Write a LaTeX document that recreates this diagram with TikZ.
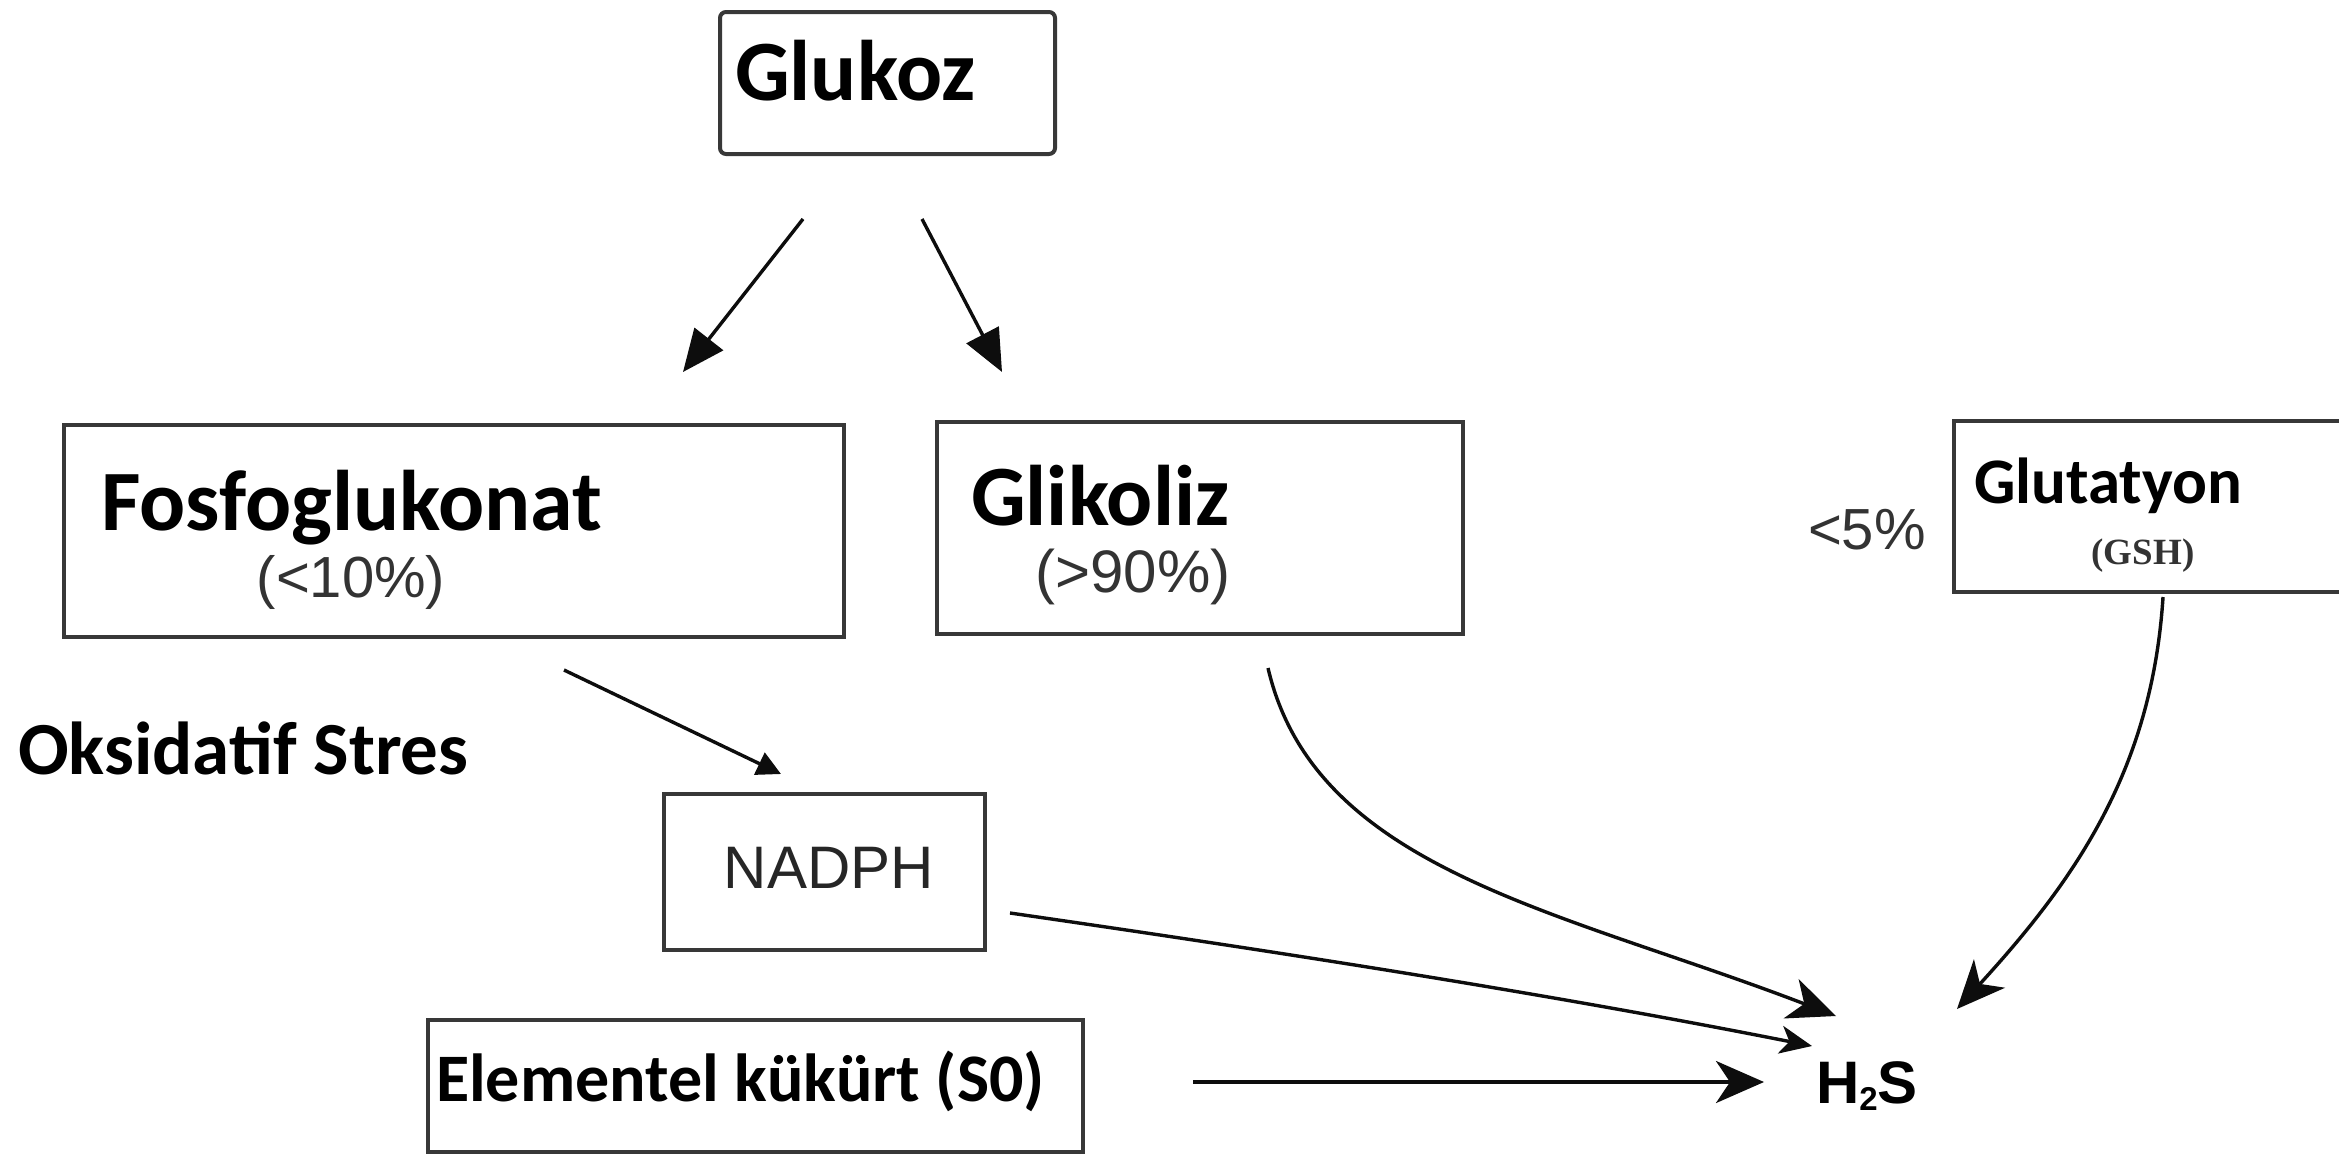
\documentclass[tikz,border=0pt]{standalone}
\usepackage{fontspec}
\setmainfont{Carlito}
\newfontfamily\arialf{Liberation Sans}
\newfontfamily\timesf{Liberation Serif}
\usetikzlibrary{arrows.meta}
\begin{document}
\begin{tikzpicture}[x=1pt,y=-1pt,
  box/.style={draw=black!78, line width=4pt, rectangle, inner sep=0pt, outer sep=0pt, anchor=north west},
  lbl/.style={inner sep=0pt, outer sep=0pt, anchor=base west, text=black},
  sub/.style={inner sep=0pt, outer sep=0pt, anchor=base, text=black!80},
  conn/.style={line width=3.4pt, draw=black!95},
  tri/.style={-{Triangle[length=42pt,width=36pt]}},
  smalltri/.style={-{Triangle[length=24pt,width=24pt]}},
  bigstl/.style={-{Stealth[length=48pt,width=42pt,inset=14pt]}},
  midstl/.style={-{Stealth[length=32pt,width=28pt,inset=9pt]}},
]
\useasboundingbox (0,0) rectangle (2339,1159);
\fill[white] (0,0) rectangle (2339,1159);
\clip (0,0) rectangle (2339,1159);

% boxes
\node[box, minimum width=335pt, minimum height=142pt, rounded corners=6pt] (glukoz) at (720,12) {};
\node[box, minimum width=780pt, minimum height=212pt] (fosfo) at (64,425) {};
\node[box, minimum width=526pt, minimum height=212pt] (glikoliz) at (937,422) {};
\node[box, minimum width=400pt, minimum height=171pt] (gsh) at (1954,421) {};
\node[box, minimum width=321pt, minimum height=156pt] (nadph) at (664,794) {};
\node[box, minimum width=655pt, minimum height=132pt] (elem) at (428,1020) {};

% texts
\node[lbl, font=\fontsize{86}{90}\selectfont\bfseries] (tglukoz) at (735,100) {Glukoz};
\node[lbl, font=\fontsize{86}{90}\selectfont\bfseries] (tfosfo) at (101,530) {Fosfoglukonat};
\node[sub, font=\arialf\fontsize{58}{60}\selectfont] (tfosfop) at (351,597) {(<10\%)};
\node[lbl, font=\fontsize{86}{90}\selectfont\bfseries] (tglik) at (971,525) {Glikoliz};
\node[sub, font=\arialf\fontsize{60}{62}\selectfont] (tglikp) at (1133,592) {(>90\%)};
\node[lbl, font=\fontsize{65}{70}\selectfont\bfseries] (tgsh) at (1974,503) {Glutatyon};
\node[sub, font=\timesf\fontsize{37}{40}\selectfont\bfseries] (tgshp) at (2143,564) {(GSH)};
\node[lbl, font=\arialf\fontsize{58}{60}\selectfont, text=black!80] (tfive) at (1808,549) {<5\%};
\node[lbl, font=\fontsize{75}{78}\selectfont\bfseries] (tstres) at (18,774) {Oksidatif Stres};
\node[sub, font=\arialf\fontsize{60}{62}\selectfont, text=black!85] (tnadph) at (829,888) {NADPH};
\node[lbl, font=\fontsize{68}{72}\selectfont\bfseries] (telem) at (436,1101) {Elementel kükürt (S0)};
\node[lbl, font=\arialf\bfseries\fontsize{60}{62}\selectfont] (h2s) at (1816,1103) {H\raisebox{-0.12em}{\fontsize{33}{34}\selectfont 2}S};

% connector end points
\coordinate (g1s) at (803,219); \coordinate (g1e) at (683,372);
\coordinate (g2s) at (922,219); \coordinate (g2e) at (1002,372);
\coordinate (fns) at (564,670); \coordinate (fne) at (781,774);
\coordinate (gls) at (1268,668); \coordinate (gle) at (1836,1016);
\coordinate (gts) at (2163,597); \coordinate (gte) at (1957,1009);
\coordinate (nds) at (1010,913); \coordinate (nde) at (1812,1046);
\coordinate (els) at (1193,1082); \coordinate (ele) at (1764,1082);

% connectors
\draw[conn, tri] (g1s) -- (g1e);
\draw[conn, tri] (g2s) -- (g2e);
\draw[conn, smalltri] (fns) -- (fne);
\draw[conn, bigstl] (gls) .. controls (1315,870) and (1560,910) .. (gle);
\draw[conn, bigstl] (gts) .. controls (2152,770) and (2075,880) .. (gte);
\draw[conn, midstl] (nds) .. controls (1280,952) and (1550,994) .. (nde);
\draw[conn, line width=3.8pt, bigstl] (els) -- (ele);
\end{tikzpicture}
\end{document}
